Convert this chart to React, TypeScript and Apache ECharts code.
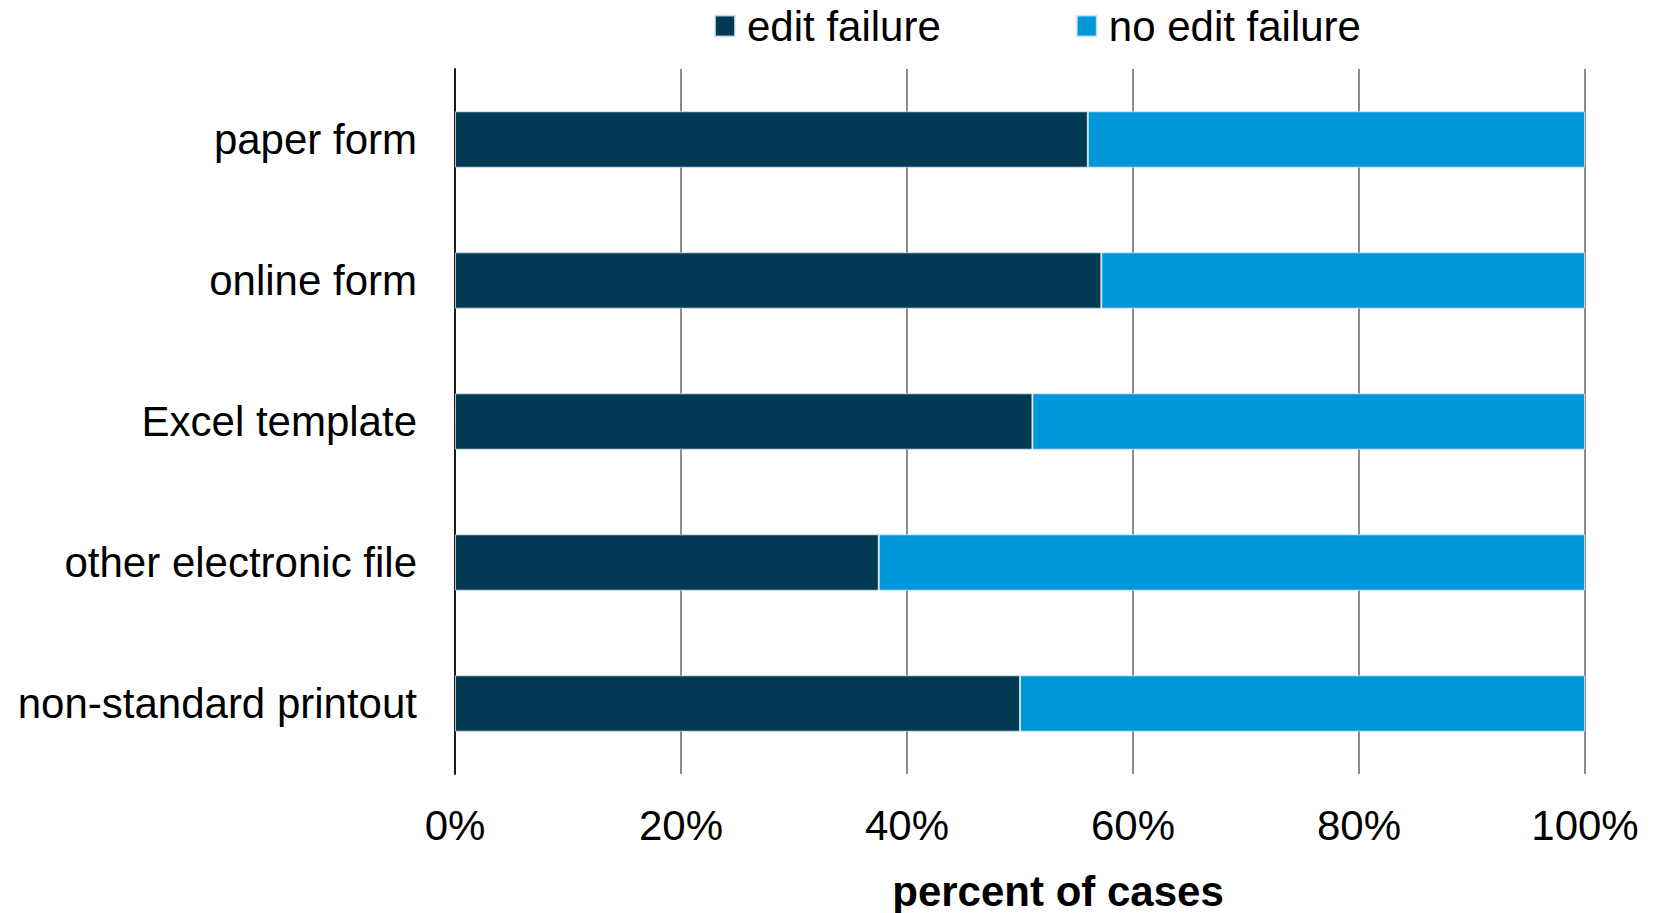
import React, { useEffect, useRef } from "react";
import * as echarts from "echarts";

const categories = [
  "paper form",
  "online form",
  "Excel template",
  "other electronic file",
  "non-standard printout",
];
const editFailure = [56.0, 57.2, 51.1, 37.5, 50.0];
const noEditFailure = [44.0, 42.8, 48.9, 62.5, 50.0];
const seriesNames = ["edit failure", "no edit failure"];
const axisTitle = "percent of cases";

const FONT = "'Liberation Sans', Arial, Helvetica, sans-serif";

export default function App() {
  const ref = useRef<HTMLDivElement>(null);

  useEffect(() => {
    document.body.style.margin = "0";
    if (!ref.current) return;
    const chart = echarts.init(ref.current, null, { renderer: "svg" });
    chart.setOption({
      animation: false,
      backgroundColor: "#ffffff",
      textStyle: { fontFamily: FONT },
      legend: {
        data: seriesNames,
        left: 709,
        top: 0,
        icon: "rect",
        itemWidth: 20,
        itemHeight: 21,
        itemGap: 135,
        textStyle: {
          fontFamily: FONT,
          fontSize: 42,
          color: "#000",
          padding: [0, 0, 0, 7],
        },
      },
      grid: { left: 455, right: 69, top: 69, bottom: 139 },
      xAxis: {
        type: "value",
        min: 0,
        max: 100,
        interval: 20,
        axisLine: { show: false },
        axisTick: { show: false },
        axisLabel: {
          formatter: "{value}%",
          fontFamily: FONT,
          fontSize: 42,
          color: "#000",
          margin: 30,
        },
        splitLine: { show: true, lineStyle: { color: "#8c8c8c", width: 2 } },
      },
      yAxis: {
        type: "category",
        data: categories,
        inverse: true,
        axisLine: { show: true, lineStyle: { color: "#1a1a1a", width: 2 } },
        axisTick: { show: false },
        axisLabel: {
          fontFamily: FONT,
          fontSize: 42,
          color: "#000",
          margin: 38,
        },
      },
      graphic: [
        {
          type: "text",
          x: 1058,
          y: 891,
          style: {
            text: axisTitle,
            font: `bold 42px ${FONT}`,
            fill: "#000",
            textAlign: "center",
            textVerticalAlign: "middle",
          },
        },
      ],
      series: [
        {
          name: seriesNames[0],
          type: "bar",
          stack: "total",
          barCategoryGap: "60%",
          data: editFailure,
          itemStyle: {
            color: "#023a53",
            borderColor: "rgba(220,232,240,0.8)",
            borderWidth: 1,
          },
        },
        {
          name: seriesNames[1],
          type: "bar",
          stack: "total",
          barCategoryGap: "60%",
          data: noEditFailure,
          itemStyle: {
            color: "#0097da",
            borderColor: "rgba(220,232,240,0.8)",
            borderWidth: 1,
          },
        },
      ],
    });
    return () => chart.dispose();
  }, []);

  return <div ref={ref} style={{ width: 1654, height: 913 }} />;
}
